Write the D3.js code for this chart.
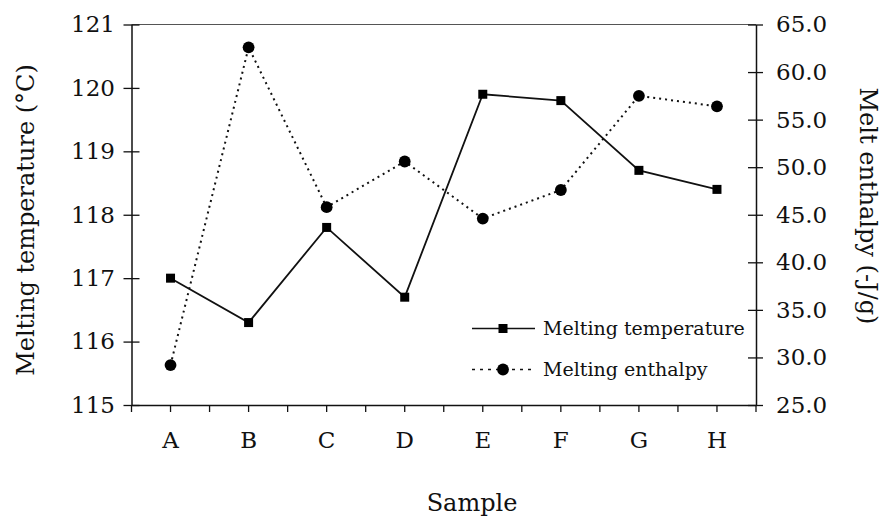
<!DOCTYPE html>
<html>
<head>
<meta charset="utf-8">
<script src="https://cdn.jsdelivr.net/npm/d3@7/dist/d3.min.js"></script>
<style>
  html, body { margin: 0; padding: 0; background: #fff; }
  svg { display: block; font-family: "DejaVu Serif", "Liberation Serif", serif; }
</style>
</head>
<body>
<svg id="chart" width="882" height="521"></svg>
<script>
// Samples and measured thermal properties
const samples = ["A", "B", "C", "D", "E", "F", "G", "H"];
const meltingTemperature = [117.0, 116.3, 117.8, 116.7, 119.9, 119.8, 118.7, 118.4]; // °C
const meltingEnthalpy = [29.2, 62.6, 45.8, 50.6, 44.6, 47.6, 57.5, 56.4];             // -J/g
const tempTicks = [115, 116, 117, 118, 119, 120, 121];
const enthalpyTicks = [25, 30, 35, 40, 45, 50, 55, 60, 65];

const svg = d3.select("#chart");
const plotLeft = 131.5, plotRight = 756, plotTop = 24.5, plotBottom = 405;

const x = d3.scaleBand().domain(samples).range([plotLeft, plotRight]);
const yT = d3.scaleLinear().domain([115, 121]).range([plotBottom, plotTop]);
const yH = d3.scaleLinear().domain([25, 65]).range([plotBottom, plotTop]);
const cx = s => x(s) + x.bandwidth() / 2;

// frame top edge
svg.append("line")
  .attr("x1", plotLeft).attr("x2", plotRight).attr("y1", plotTop).attr("y2", plotTop)
  .attr("stroke", "#555").attr("stroke-width", 1);

// bottom axis with ticks at sample centres and band edges
const gx = svg.append("g").attr("transform", `translate(0,${plotBottom})`)
  .call(d3.axisBottom(x).tickSizeInner(7).tickSizeOuter(0).tickPadding(20));
gx.select(".domain").attr("stroke", "#111").attr("stroke-width", 1.7);
gx.selectAll(".tick text").attr("font-size", 23).attr("fill", "#111")
  .attr("font-family", "DejaVu Serif, serif");
const edges = samples.map(s => x(s)).concat([plotRight]);
gx.selectAll(".edge").data(edges).enter().append("line")
  .attr("class", "edge")
  .attr("x1", d => d).attr("x2", d => d).attr("y1", 0).attr("y2", 7)
  .attr("stroke", "#111").attr("stroke-width", 1.3);
gx.selectAll(".tick line").attr("stroke", "#111").attr("stroke-width", 1.3);

// left axis (temperature)
const gl = svg.append("g").attr("transform", `translate(${plotLeft},0)`)
  .call(d3.axisLeft(yT).tickValues(tempTicks).tickFormat(d3.format("d"))
    .tickSizeInner(8).tickSizeOuter(0).tickPadding(8.5));
gl.select(".domain").attr("stroke", "#111").attr("stroke-width", 1.5);
gl.selectAll(".tick line").attr("x1", 8).attr("stroke", "#111").attr("stroke-width", 1.3);
gl.selectAll(".tick text").attr("font-size", 23).attr("fill", "#111")
  .attr("font-family", "DejaVu Serif, serif");

// right axis (enthalpy)
const gr = svg.append("g").attr("transform", `translate(${plotRight},0)`)
  .call(d3.axisRight(yH).tickValues(enthalpyTicks).tickFormat(d3.format(".1f"))
    .tickSizeInner(7).tickSizeOuter(0).tickPadding(13));
gr.select(".domain").attr("stroke", "#111").attr("stroke-width", 1.5);
gr.selectAll(".tick line").attr("x1", -8).attr("stroke", "#111").attr("stroke-width", 1.3);
gr.selectAll(".tick text").attr("font-size", 23).attr("fill", "#111")
  .attr("font-family", "DejaVu Serif, serif");

// enthalpy series: dotted line with round markers
const lineH = d3.line().x((d, i) => cx(samples[i])).y(d => yH(d));
svg.append("path").datum(meltingEnthalpy)
  .attr("d", lineH).attr("fill", "none").attr("stroke", "#111")
  .attr("stroke-width", 2).attr("stroke-dasharray", "2,4");
svg.selectAll(".pt-h").data(meltingEnthalpy).enter().append("circle")
  .attr("class", "pt-h")
  .attr("cx", (d, i) => cx(samples[i])).attr("cy", d => yH(d))
  .attr("r", 5.9).attr("fill", "#000");

// temperature series: solid line with square markers
const lineT = d3.line().x((d, i) => cx(samples[i])).y(d => yT(d));
svg.append("path").datum(meltingTemperature)
  .attr("d", lineT).attr("fill", "none").attr("stroke", "#111").attr("stroke-width", 1.8);
const sq = 9;
svg.selectAll(".pt-t").data(meltingTemperature).enter().append("rect")
  .attr("class", "pt-t")
  .attr("x", (d, i) => cx(samples[i]) - sq / 2).attr("y", d => yT(d) - sq / 2)
  .attr("width", sq).attr("height", sq).attr("fill", "#000");

// legend
const legend = svg.append("g");
const legendItems = [
  { label: "Melting temperature", y: 328.5, dash: null, shape: "square" },
  { label: "Melting enthalpy", y: 369.5, dash: "3,5", shape: "circle" }
];
legendItems.forEach(it => {
  legend.append("line").attr("x1", 472).attr("x2", 535).attr("y1", it.y).attr("y2", it.y)
    .attr("stroke", "#111").attr("stroke-width", 1.7)
    .attr("stroke-dasharray", it.dash);
  if (it.shape === "square") {
    legend.append("rect").attr("x", 503 - sq / 2).attr("y", it.y - sq / 2)
      .attr("width", sq).attr("height", sq).attr("fill", "#000");
  } else {
    legend.append("circle").attr("cx", 503).attr("cy", it.y).attr("r", 5.9).attr("fill", "#000");
  }
  legend.append("text").attr("x", 543).attr("y", it.y + 6.5)
    .attr("font-size", 19).attr("fill", "#111").text(it.label);
});

// axis titles
svg.append("text").attr("transform", "translate(34,220) rotate(-90)")
  .attr("text-anchor", "middle").attr("font-size", 24).attr("fill", "#111")
  .text("Melting temperature (°C)");
svg.append("text").attr("transform", "translate(860,206) rotate(90)")
  .attr("text-anchor", "middle").attr("font-size", 24).attr("fill", "#111")
  .text("Melt enthalpy (-J/g)");
svg.append("text").attr("x", 472).attr("y", 511)
  .attr("text-anchor", "middle").attr("font-size", 24).attr("fill", "#111")
  .text("Sample");
</script>
</body>
</html>
